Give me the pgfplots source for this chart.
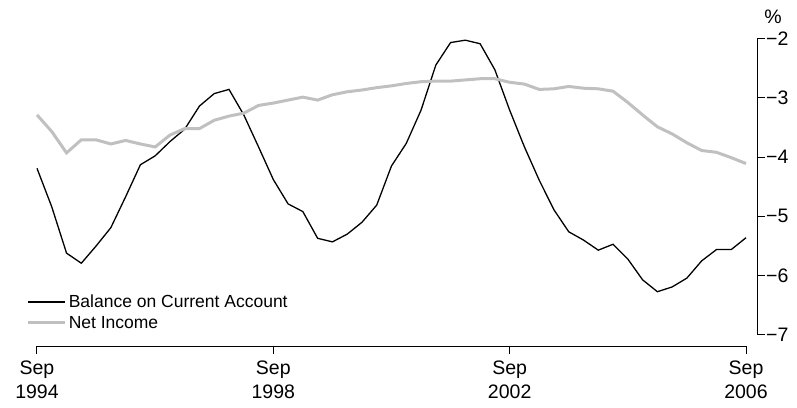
\documentclass[border=0pt]{standalone}
\usepackage{fontspec}
\setmainfont{Liberation Sans}
\usepackage{pgfplots}
\usepackage{pgfplotstable}
\pgfplotsset{compat=1.18}

% quarter index (0 = Sep 1994), balance on current account, net income (% of GDP)
\pgfplotstableread{
q  bca    ni
0  -4.19  -3.29
1  -4.84  -3.57
2  -5.62  -3.93
3  -5.79  -3.71
4  -5.50  -3.71
5  -5.19  -3.78
6  -4.67  -3.72
7  -4.13  -3.78
8  -3.98  -3.83
9  -3.74  -3.63
10 -3.53  -3.52
11 -3.14  -3.52
12 -2.93  -3.38
13 -2.86  -3.31
14 -3.29  -3.26
15 -3.83  -3.13
16 -4.38  -3.09
17 -4.79  -3.04
18 -4.92  -2.99
19 -5.37  -3.04
20 -5.43  -2.95
21 -5.30  -2.90
22 -5.10  -2.87
23 -4.81  -2.83
24 -4.15  -2.80
25 -3.77  -2.76
26 -3.21  -2.73
27 -2.45  -2.72
28 -2.07  -2.72
29 -2.03  -2.70
30 -2.09  -2.68
31 -2.53  -2.68
32 -3.21  -2.74
33 -3.83  -2.77
34 -4.39  -2.86
35 -4.89  -2.85
36 -5.26  -2.81
37 -5.40  -2.84
38 -5.57  -2.85
39 -5.47  -2.89
40 -5.72  -3.08
41 -6.07  -3.29
42 -6.27  -3.49
43 -6.19  -3.61
44 -6.04  -3.76
45 -5.75  -3.89
46 -5.56  -3.92
47 -5.56  -4.01
48 -5.36  -4.11
}\datatable

\definecolor{nigrey}{RGB}{192,192,192}
\newcommand{\chfont}{\fontsize{17.5}{21}\selectfont}
\newcommand{\tkfont}{\fontsize{19.5}{23.5}\selectfont}

\begin{document}
\begin{tikzpicture}
\begin{axis}[
    name=ax,
    scale only axis,
    width=720pt, height=307.6pt,
    xmin=0, xmax=48.745,
    ymin=-7.1855, ymax=-2,
    clip=false,
    axis x line*=bottom,
    axis y line*=right,
    axis line style={draw=none},
    tick align=outside,
    major tick length=8pt,
    tick style={black, line width=1pt},
    xtick={0,16,32,48},
    xticklabels={{Sep\\1994},{Sep\\1998},{Sep\\2002},{Sep\\2006}},
    xticklabel style={align=center, font=\tkfont, inner ysep=7pt},
    ytick={-7,-6,-5,-4,-3,-2},
    yticklabels={−7,−6,−5,−4,−3,−2},
    yticklabel style={font=\tkfont, inner xsep=1pt},
    legend cell align=left,
    legend style={draw=none, fill=none, font=\chfont,
        at={(rel axis cs:-0.0145,0.0465)}, anchor=south west,
        inner sep=0pt, row sep=3pt,
        nodes={inner sep=2pt}},
    legend image code/.code={\draw[#1] (0pt,0pt) -- (37pt,0pt);},
]
\addplot[black, line width=1.3pt] table[x=q, y=bca] {\datatable};
\addlegendentry{Balance on Current Account}
\addplot[nigrey, line width=3pt] table[x=q, y=ni] {\datatable};
\addlegendentry{Net Income}

\draw[black, line width=1pt] (axis cs:0,-7.1855) -- (axis cs:48,-7.1855);
\draw[black, line width=1pt] (axis cs:48.745,-7) -- (axis cs:48.745,-2);
\node[font=\tkfont] at ([xshift=16pt, yshift=22pt]rel axis cs:1,1) {\%};
\end{axis}
\pgfresetboundingbox
\useasboundingbox ([shift={(-37pt,-61pt)}]ax.south west) rectangle ([shift={(760pt,346pt)}]ax.south west);
\end{tikzpicture}
\end{document}
